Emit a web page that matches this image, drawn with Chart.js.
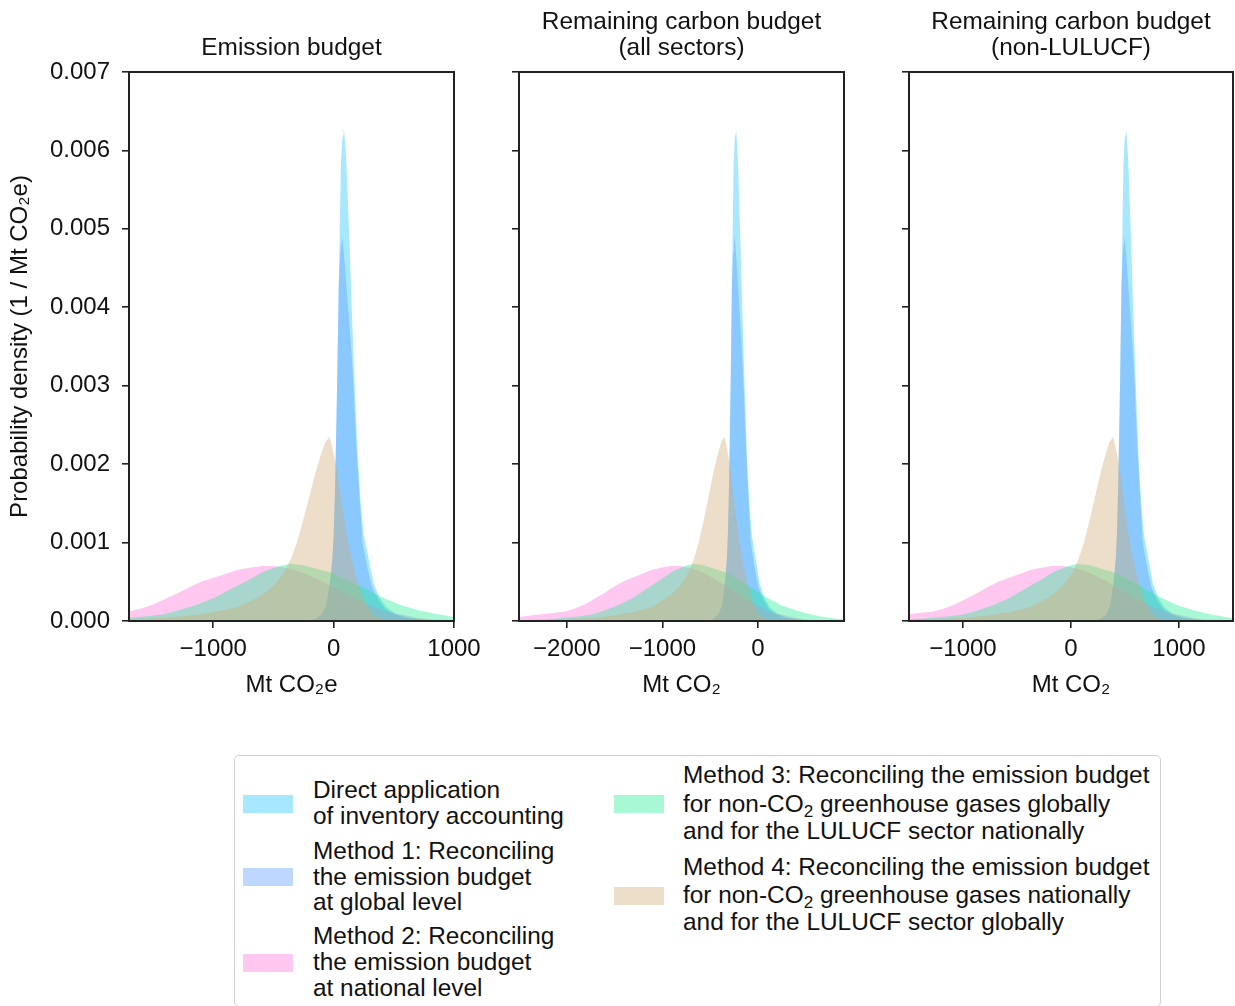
<!DOCTYPE html>
<html><head><meta charset="utf-8">
<script src="https://cdn.jsdelivr.net/npm/chart.js@4.4.0/dist/chart.umd.min.js"></script>
<style>
html,body{margin:0;padding:0;background:#fff;}
body{width:1235px;height:1006px;position:relative;overflow:hidden;font-family:"Liberation Sans",Arial,sans-serif;color:#111;}
canvas{position:absolute;top:0;}
#legendBox{position:absolute;left:234px;top:755px;width:927px;height:252px;border:1.5px solid #d0d0d0;border-radius:5px;box-sizing:border-box;}
.sw{position:absolute;width:50px;height:18px;}
.ln{position:absolute;font-size:24.4px;line-height:26px;white-space:nowrap;}
sub{font-size:0.7em;vertical-align:-0.28em;line-height:0;}
</style></head>
<body>
<canvas id="c1" width="500" height="722" style="left:0px"></canvas>
<canvas id="c2" width="390" height="722" style="left:500px"></canvas>
<canvas id="c3" width="345" height="722" style="left:890px"></canvas>
<div id="legendBox"></div>
<div id="legend"></div>
<script>
// ---------------- data ----------------
const panelTitles = [["Emission budget"], ["Remaining carbon budget", "(all sectors)"], ["Remaining carbon budget", "(non-LULUCF)"]];
const xAxisTitles = ["Mt CO\u2082e", "Mt CO\u2082", "Mt CO\u2082"];
const yAxisTitle = "Probability density (1 / Mt CO\u2082e)";
const xTicks1 = [-1000, 0, 1000];
const xTicks2 = [-2000, -1000, 0];
const xTicks3 = [-1000, 0, 1000];
const yTicks = [0, 0.001, 0.002, 0.003, 0.004, 0.005, 0.006, 0.007];
const xLimits = [[-1700, 1000], [-2500, 900], [-1500, 1500]];
const seriesNames = ["Direct application of inventory accounting", "Method 1", "Method 2", "Method 3", "Method 4"];

// Direct application of inventory accounting
const directDensity = [0, 0.00001, 0.00003, 0.00008, 0.0002, 0.0005, 0.0008, 0.0011, 0.0016, 0.0023, 0.0031, 0.0040, 0.0049, 0.0058, 0.0061, 0.0062, 0.0063, 0.0062, 0.0060, 0.0057, 0.0054, 0.0051, 0.0048, 0.0040, 0.0030, 0.0021, 0.0015, 0.0011, 0.0008, 0.00048, 0.0003, 0.00017, 0.00009, 0.00004, 0.00002, 0.00001, 0];
const directX1 = [-300, -200, -150, -100, -60, -30, -10, 0, 10, 20, 30, 40, 50, 60, 70, 78, 83, 90, 100, 110, 117, 125, 133, 150, 175, 200, 225, 250, 290, 332, 380, 443, 520, 620, 720, 850, 1000];
const directX2 = [-615, -515, -465, -415, -375, -345, -325, -315, -305, -295, -285, -275, -265, -255, -245, -237, -232, -225, -215, -205, -198, -190, -182, -165, -140, -115, -90, -65, -25, 17, 65, 128, 205, 305, 405, 535, 685];
const directX3 = [125, 225, 275, 325, 365, 395, 415, 425, 435, 445, 455, 465, 475, 485, 495, 503, 508, 515, 525, 535, 542, 550, 558, 575, 600, 625, 650, 675, 715, 757, 805, 868, 945, 1045, 1145, 1275, 1425];

// Method 1
const m1Density = [0, 0.00001, 0.00003, 0.00008, 0.0002, 0.0005, 0.0008, 0.0011, 0.0016, 0.0023, 0.0031, 0.0043, 0.0047, 0.0048, 0.0049, 0.0048, 0.0046, 0.0043, 0.0040, 0.0037, 0.0034, 0.0030, 0.0022, 0.0016, 0.0010, 0.00068, 0.00043, 0.00027, 0.00015, 0.00008, 0.00004, 0.00002, 0.00001, 0];
const m1X1 = [-300, -200, -150, -100, -60, -30, -10, 0, 10, 20, 30, 42, 55, 63, 70, 78, 90, 105, 120, 135, 150, 165, 190, 215, 240, 280, 320, 370, 430, 510, 600, 720, 850, 1000];
const m1X2 = [-615, -515, -465, -415, -375, -345, -325, -315, -305, -295, -285, -273, -260, -252, -245, -237, -225, -210, -195, -180, -165, -150, -125, -100, -75, -35, 5, 55, 115, 195, 285, 405, 535, 685];
const m1X3 = [125, 225, 275, 325, 365, 395, 415, 425, 435, 445, 455, 467, 480, 488, 495, 503, 515, 530, 545, 560, 575, 590, 615, 640, 665, 705, 745, 795, 855, 935, 1025, 1145, 1275, 1425];

// Method 2
const m2Density = [0.00005, 0.00008, 0.0001, 0.00012, 0.00016, 0.00021, 0.00028, 0.00035, 0.00043, 0.0005, 0.00055, 0.0006, 0.00065, 0.00068, 0.0007, 0.0007, 0.00068, 0.00064, 0.00058, 0.00051, 0.00043, 0.00035, 0.00027, 0.0002, 0.00014, 0.0001, 0.00007, 0.00004, 0.00002, 0.00001, 0];
const m2X1 = [-2200, -2000, -1850, -1700, -1600, -1500, -1400, -1300, -1200, -1100, -1000, -900, -800, -700, -600, -500, -400, -300, -200, -100, 0, 100, 200, 300, 400, 500, 600, 700, 800, 1000, 1200];
const m2X2 = [-2515, -2315, -2165, -2015, -1915, -1815, -1715, -1615, -1515, -1415, -1315, -1215, -1115, -1015, -915, -815, -715, -615, -515, -415, -315, -215, -115, -15, 85, 185, 285, 385, 485, 685, 885];
const m2X3 = [-1775, -1575, -1425, -1275, -1175, -1075, -975, -875, -775, -675, -575, -475, -375, -275, -175, -75, 25, 125, 225, 325, 425, 525, 625, 725, 825, 925, 1025, 1125, 1225, 1425, 1625];

// Method 3
const m3Density = [0.00001, 0.00002, 0.00004, 0.00006, 0.00009, 0.00013, 0.0002, 0.00029, 0.00041, 0.00053, 0.00063, 0.0007, 0.00073, 0.00071, 0.00067, 0.00061, 0.0005, 0.0004, 0.00029, 0.0002, 0.00014, 0.00009, 0.00005, 0.00002, 0.00001, 0];
const m3X1 = [-2200, -1900, -1700, -1550, -1400, -1300, -1150, -1000, -850, -700, -580, -450, -360, -250, -150, 0, 150, 280, 420, 560, 700, 850, 1000, 1200, 1400, 1600];
const m3X2 = [-2515, -2215, -2015, -1865, -1715, -1615, -1465, -1315, -1165, -1015, -895, -765, -675, -565, -465, -315, -165, -35, 105, 245, 385, 535, 685, 885, 1085, 1285];
const m3X3 = [-1775, -1475, -1275, -1125, -975, -875, -725, -575, -425, -275, -155, -25, 65, 175, 275, 425, 575, 705, 845, 985, 1125, 1275, 1425, 1625, 1825, 2025];

// Method 4
const m4Density = [0.00001, 0.00002, 0.00004, 0.00007, 0.00011, 0.00018, 0.00025, 0.00033, 0.00045, 0.0006, 0.00077, 0.001, 0.0013, 0.0016, 0.0019, 0.0021, 0.00228, 0.00235, 0.0022, 0.002, 0.0017, 0.0014, 0.0011, 0.0008, 0.0005, 0.00028, 0.00013, 0.00005, 0.00001, 0];
const m4X1 = [-2200, -1700, -1400, -1200, -1000, -800, -700, -600, -500, -420, -360, -305, -250, -200, -150, -110, -70, -33, -10, 20, 50, 80, 110, 150, 200, 250, 300, 350, 450, 600];
const m4X2 = [-2515, -2015, -1715, -1515, -1315, -1115, -1015, -915, -815, -735, -675, -620, -565, -515, -465, -425, -385, -348, -325, -295, -265, -235, -205, -165, -115, -65, -15, 35, 135, 285];
const m4X3 = [-1775, -1275, -975, -775, -575, -375, -275, -175, -75, 5, 65, 120, 175, 225, 275, 315, 355, 392, 415, 445, 475, 505, 535, 575, 625, 675, 725, 775, 875, 1025];

// ---------------- styling ----------------
const fills = ["rgba(38,198,255,0.4)", "rgba(92,155,255,0.4)", "rgba(255,118,218,0.4)", "rgba(38,235,150,0.4)", "rgba(208,173,118,0.4)"];
const densities = [directDensity, m1Density, m2Density, m3Density, m4Density];
const xsByPanel = [
  [directX1, m1X1, m2X1, m3X1, m4X1],
  [directX2, m1X2, m2X2, m3X2, m4X2],
  [directX3, m1X3, m2X3, m3X3, m4X3]
];
const xTicksByPanel = [xTicks1, xTicks2, xTicks3];

Chart.defaults.font.family = '"Liberation Sans", Arial, sans-serif';
Chart.defaults.font.size = 24;
Chart.defaults.color = '#111';

const frame = {
  id: 'frame',
  afterDatasetsDraw(chart) {
    const {ctx, chartArea: a} = chart;
    ctx.save();
    ctx.strokeStyle = '#222';
    ctx.lineWidth = 2;
    ctx.strokeRect(a.left, a.top, a.right - a.left, a.bottom - a.top);
    ctx.restore();
  }
};

const fmtTick = v => (v < 0 ? '\u2212' + Math.abs(v) : String(v));

function makePanel(idx, canvasId, yWidth, padRight) {
  const datasets = densities.map((dens, s) => ({
    label: seriesNames[s],
    data: dens.map((y, i) => ({x: xsByPanel[idx][s][i], y})),
    backgroundColor: fills[s],
    borderWidth: 0,
    pointRadius: 0,
    tension: 0,
    fill: 'origin',
    order: 5 - s
  }));
  const twoLine = panelTitles[idx].length === 2;
  new Chart(document.getElementById(canvasId), {
    type: 'line',
    data: {datasets},
    options: {
      responsive: false,
      animation: false,
      events: [],
      layout: {padding: {left: 0, right: padRight, top: 0, bottom: 0}},
      plugins: {
        legend: {display: false},
        tooltip: {enabled: false},
        title: {
          display: true,
          fullSize: false,
          text: panelTitles[idx],
          color: '#111',
          font: {size: 24.4, weight: 'normal', lineHeight: 26 / 24.4},
          padding: twoLine ? {top: 9, bottom: 11} : {top: 35, bottom: 11}
        }
      },
      scales: {
        x: {
          type: 'linear',
          min: xLimits[idx][0],
          max: xLimits[idx][1],
          afterBuildTicks: sc => { sc.ticks = xTicksByPanel[idx].map(v => ({value: v})); },
          afterFit: sc => { sc.height = 101; },
          ticks: {padding: 7, callback: v => fmtTick(v), maxRotation: 0, color: '#111'},
          grid: {drawOnChartArea: false, drawTicks: true, tickLength: 7, tickColor: '#222', lineWidth: 1.6},
          border: {display: false},
          title: {display: true, text: xAxisTitles[idx], color: '#111', font: {size: 24}, padding: {top: 0, bottom: 22}}
        },
        y: {
          type: 'linear',
          min: 0,
          max: 0.007,
          afterBuildTicks: sc => { sc.ticks = yTicks.map(v => ({value: v})); },
          afterFit: sc => { sc.width = yWidth; },
          ticks: {display: idx === 0, padding: 12, callback: v => v.toFixed(3), color: '#111'},
          grid: {drawOnChartArea: false, drawTicks: true, tickLength: 7, tickColor: '#222', lineWidth: 1.6},
          border: {display: false},
          title: {display: idx === 0, text: yAxisTitle, color: '#111', font: {size: 24}, padding: {top: 6, bottom: 0}}
        }
      }
    },
    plugins: [frame]
  });
}

makePanel(0, 'c1', 129, 46);
makePanel(1, 'c2', 19, 46);
makePanel(2, 'c3', 19, 2);

// ---------------- HTML legend ----------------
const legendEntries = [
  {color: 0, sx: 243, sy: 804, tx: 313, lines: [790, 816], html: ["Direct application", "of inventory accounting"]},
  {color: 1, sx: 243, sy: 877, tx: 313, lines: [851, 877, 902], html: ["Method 1: Reconciling", "the emission budget", "at global level"]},
  {color: 2, sx: 243, sy: 963, tx: 313, lines: [936, 962, 988], html: ["Method 2: Reconciling", "the emission budget", "at national level"]},
  {color: 3, sx: 614, sy: 804, tx: 683, lines: [775, 804, 831], html: ["Method 3: Reconciling the emission budget", "for non-CO<sub>2</sub> greenhouse gases globally", "and for the LULUCF sector nationally"]},
  {color: 4, sx: 614, sy: 896, tx: 683, lines: [867, 895, 922], html: ["Method 4: Reconciling the emission budget", "for non-CO<sub>2</sub> greenhouse gases nationally", "and for the LULUCF sector globally"]}
];
const lg = document.getElementById('legend');
legendEntries.forEach(e => {
  const sw = document.createElement('div');
  sw.className = 'sw';
  sw.style.left = e.sx + 'px';
  sw.style.top = (e.sy - 9) + 'px';
  sw.style.background = fills[e.color];
  lg.appendChild(sw);
  e.html.forEach((h, i) => {
    const d = document.createElement('div');
    d.className = 'ln';
    d.style.left = e.tx + 'px';
    d.style.top = (e.lines[i] - 13) + 'px';
    d.innerHTML = h;
    lg.appendChild(d);
  });
});
</script>
</body></html>
